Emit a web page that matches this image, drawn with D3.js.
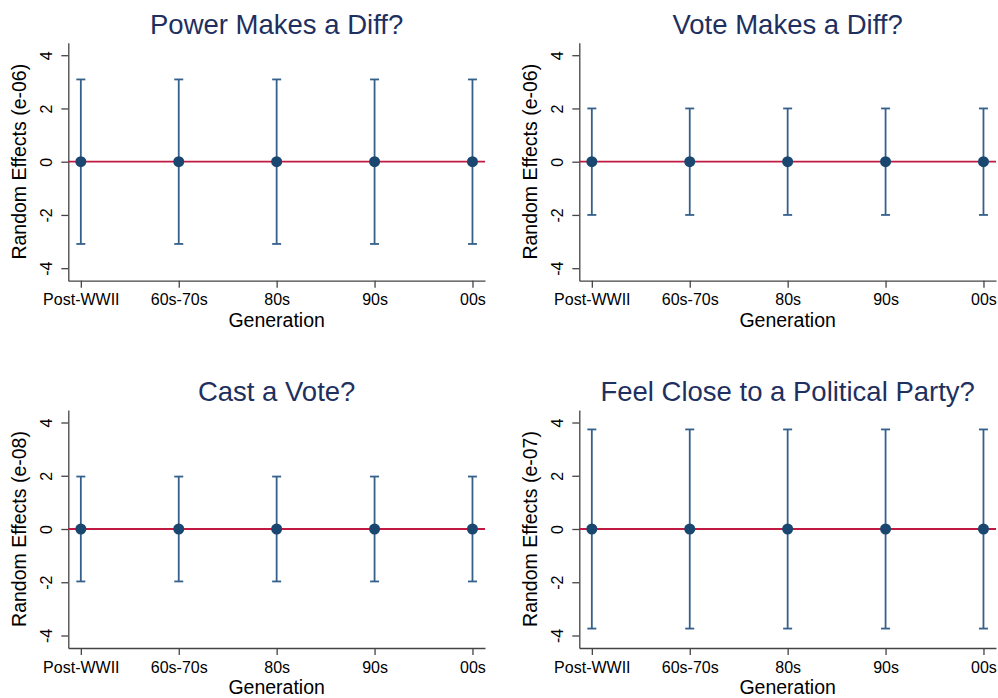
<!DOCTYPE html>
<html>
<head>
<meta charset="utf-8">
<script src="https://cdn.jsdelivr.net/npm/d3@7"></script>
<style>
  body { margin: 0; background: #fff; }
  svg { display: block; font-family: "Liberation Sans", Arial, Helvetica, sans-serif; }
</style>
</head>
<body>
<svg id="chart" width="998" height="698"></svg>
<script>
// Data
const generations = ["Post-WWII", "60s-70s", "80s", "90s", "00s"];
const panelTitles = ["Power Makes a Diff?", "Vote Makes a Diff?", "Cast a Vote?", "Feel Close to a Political Party?"];
const yTitles = ["Random Effects (e-06)", "Random Effects (e-06)", "Random Effects (e-08)", "Random Effects (e-07)"];
const yTicks = [-4, -2, 0, 2, 4];

const powerEst = [0, 0, 0, 0, 0];
const powerLow = [-3.09, -3.09, -3.09, -3.09, -3.09];
const powerHigh = [3.09, 3.09, 3.09, 3.09, 3.09];

const voteDiffEst = [0, 0, 0, 0, 0];
const voteDiffLow = [-2.0, -2.0, -2.0, -2.0, -2.0];
const voteDiffHigh = [2.0, 2.0, 2.0, 2.0, 2.0];

const castEst = [0, 0, 0, 0, 0];
const castLow = [-1.97, -1.97, -1.97, -1.97, -1.97];
const castHigh = [1.97, 1.97, 1.97, 1.97, 1.97];

const partyEst = [0, 0, 0, 0, 0];
const partyLow = [-3.74, -3.74, -3.74, -3.74, -3.74];
const partyHigh = [3.74, 3.74, 3.74, 3.74, 3.74];

const panels = [
    {est: powerEst, low: powerLow, high: powerHigh},
    {est: voteDiffEst, low: voteDiffLow, high: voteDiffHigh},
    {est: castEst, low: castLow, high: castHigh},
    {est: partyEst, low: partyLow, high: partyHigh}
];

const navy = "#1a476f";
const barColor = "#35608c";
const refColor = "#c01a42";
const titleColor = "#1e3060";

const svg = d3.select("#chart");

// plot box inside each panel
const plot = {left: 68.3, right: 485, top: 42.7, bottom: 280.7};
const colOffset = [0, 511];
const rowOffset = [0, 367.3];

const x = d3.scalePoint()
    .domain(generations)
    .range([plot.left, plot.right])
    .padding(0.128);

const y = d3.scaleLinear()
    .domain([-4.47, 4.47])
    .range([plot.bottom, plot.top]);

panels.forEach((p, i) => {
    const g = svg.append("g")
        .attr("transform", `translate(${colOffset[i % 2]},${rowOffset[Math.floor(i / 2)]})`);

    // y axis, Stata style with rotated labels
    const yAxis = g.append("g")
        .attr("transform", `translate(${plot.left},0)`)
        .call(d3.axisLeft(y).tickValues(yTicks).tickFormat(d => String(d))
            .tickSize(7).tickSizeOuter(0).tickPadding(0));
    yAxis.selectAll("text")
        .attr("x", null).attr("dy", null)
        .attr("text-anchor", "middle")
        .attr("font-size", "16px")
        .attr("fill", "#000")
        .attr("transform", "translate(-16.5,0) rotate(-90)");

    // x axis
    const xAxis = g.append("g")
        .attr("transform", `translate(0,${plot.bottom})`)
        .call(d3.axisBottom(x).tickSize(7).tickSizeOuter(0));
    xAxis.selectAll("text")
        .attr("y", 24.5).attr("dy", null)
        .attr("font-size", "16px")
        .attr("fill", "#000");

    g.selectAll(".domain, .tick line").attr("stroke", "#444").attr("stroke-width", 1.3);

    // reference line at zero
    g.append("line")
        .attr("x1", plot.left).attr("x2", plot.right)
        .attr("y1", y(0)).attr("y2", y(0))
        .attr("stroke", refColor).attr("stroke-width", 1.8);

    const rows = generations.map((gen, j) => ({gen: gen, est: p.est[j], low: p.low[j], high: p.high[j]}));

    // error bars with caps
    const bars = g.append("g")
        .attr("stroke", barColor).attr("stroke-width", 1.8).attr("fill", "none");
    bars.selectAll("line.stem").data(rows).join("line")
        .attr("class", "stem")
        .attr("x1", d => x(d.gen)).attr("x2", d => x(d.gen))
        .attr("y1", d => y(d.low)).attr("y2", d => y(d.high));
    bars.selectAll("line.capHi").data(rows).join("line")
        .attr("class", "capHi")
        .attr("x1", d => x(d.gen) - 4.5).attr("x2", d => x(d.gen) + 4.5)
        .attr("y1", d => y(d.high)).attr("y2", d => y(d.high));
    bars.selectAll("line.capLo").data(rows).join("line")
        .attr("class", "capLo")
        .attr("x1", d => x(d.gen) - 4.5).attr("x2", d => x(d.gen) + 4.5)
        .attr("y1", d => y(d.low)).attr("y2", d => y(d.low));

    // point estimates
    g.selectAll("circle").data(rows).join("circle")
        .attr("cx", d => x(d.gen))
        .attr("cy", d => y(d.est))
        .attr("r", 5.5)
        .attr("fill", navy);

    // titles
    g.append("text")
        .attr("x", (plot.left + plot.right) / 2)
        .attr("y", 33.5)
        .attr("text-anchor", "middle")
        .attr("font-size", "27.5px")
        .attr("fill", titleColor)
        .text(panelTitles[i]);

    g.append("text")
        .attr("x", (plot.left + plot.right) / 2)
        .attr("y", 326.8)
        .attr("text-anchor", "middle")
        .attr("font-size", "19.5px")
        .attr("fill", "#000")
        .text("Generation");

    g.append("text")
        .attr("transform", `translate(26,${y(0)}) rotate(-90)`)
        .attr("text-anchor", "middle")
        .attr("font-size", "19.5px")
        .attr("fill", "#000")
        .text(yTitles[i]);
});
</script>
</body>
</html>
